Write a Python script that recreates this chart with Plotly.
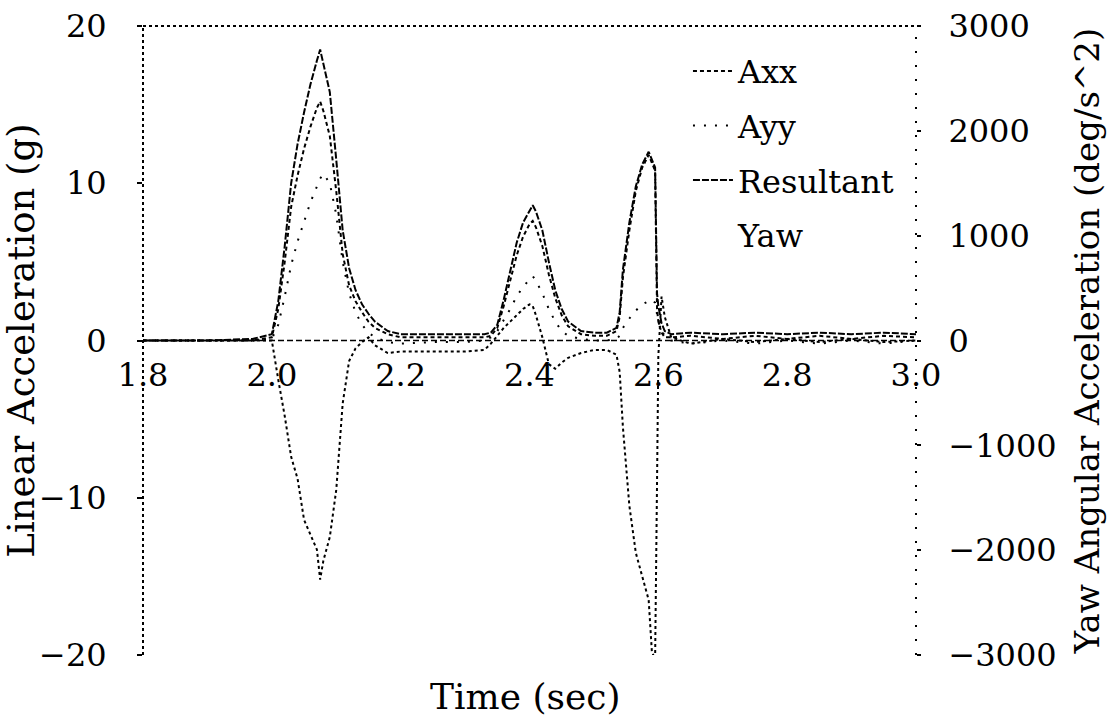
import plotly.graph_objects as go

# ---- data ----
time_s = [1.80, 1.90, 1.97, 2.00, 2.01, 2.02, 2.03, 2.04, 2.05, 2.06,
          2.07, 2.075, 2.08, 2.09, 2.10, 2.11, 2.12, 2.13, 2.14, 2.15,
          2.16, 2.18, 2.20, 2.25, 2.30, 2.33, 2.34, 2.35, 2.36, 2.37,
          2.38, 2.39, 2.40, 2.405, 2.41, 2.42, 2.43, 2.44, 2.45, 2.46,
          2.48, 2.50, 2.52, 2.535, 2.54, 2.545, 2.555, 2.565, 2.575, 2.585,
          2.59, 2.595, 2.598, 2.60, 2.605, 2.61, 2.62, 2.65, 2.70, 2.75,
          2.80, 2.85, 2.90, 2.95, 3.00]

axx = [0.0, 0.0, 0.0, 0.2, 2.0, 5.0, 8.5, 10.5, 12.2, 13.6,
       14.8, 15.2, 14.6, 13.0, 9.5, 5.5, 3.5, 2.5, 1.8, 1.2,
       0.8, 0.4, 0.2, 0.2, 0.2, 0.2, 0.3, 0.8, 2.2, 3.9,
       5.4, 6.6, 7.4, 7.6, 7.2, 6.0, 4.2, 2.7, 1.6, 0.9,
       0.4, 0.3, 0.3, 0.6, 1.5, 4.0, 7.0, 9.5, 11.0, 11.8,
       11.3, 10.8, 2.0, 1.2, 0.5, 0.2, 0.2, 0.3, 0.1, 0.3,
       0.1, 0.3, 0.1, 0.3, 0.2]

ayy = [0.0, 0.0, 0.0, 0.1, 1.0, 2.8, 4.8, 6.3, 7.6, 8.8,
       9.8, 10.3, 10.6, 10.0, 8.0, 5.0, 3.0, 1.8, 1.0, 0.5,
       0.2, -0.1, -0.2, -0.1, -0.1, 0.0, 0.2, 0.6, 1.3, 2.0,
       2.8, 3.4, 3.9, 4.1, 3.8, 3.0, 2.0, 1.2, 0.6, 0.3,
       0.1, 0.0, 0.0, 0.1, 0.3, 0.8, 1.4, 1.9, 2.3, 2.5,
       2.6, 2.4, 1.6, 1.2, 0.6, 0.3, 0.0, -0.2, 0.0, -0.2,
       0.0, -0.2, 0.0, -0.2, 0.0]

resultant = [0.0, 0.0, 0.1, 0.4, 2.5, 6.0, 10.0, 12.5, 14.5, 16.3,
             17.8, 18.5, 17.6, 15.8, 11.5, 7.0, 4.6, 3.2, 2.3, 1.7,
             1.2, 0.6, 0.4, 0.4, 0.4, 0.4, 0.5, 1.0, 2.6, 4.5,
             6.2, 7.5, 8.3, 8.6, 8.2, 7.0, 5.0, 3.2, 2.0, 1.2,
             0.6, 0.5, 0.5, 0.8, 1.8, 4.5, 7.5, 9.8, 11.2, 12.0,
             11.5, 11.0, 3.0, 2.2, 1.1, 0.6, 0.4, 0.5, 0.4, 0.5,
             0.4, 0.5, 0.4, 0.5, 0.4]

yaw = [0, 0, 0, 0, -375, -720, -1110, -1320, -1710, -1845,
       -1995, -2280, -2100, -1875, -1425, -600, -195, -75, -15, 30,
       -45, -120, -105, -105, -105, -90, -30, 45, 120, 180,
       240, 300, 345, 330, 240, 30, -225, -270, -210, -165,
       -120, -90, -90, -135, -300, -825, -1575, -2025, -2250, -2475,
       -2970, -3040, -1350, -150, 420, 225, 30, -30, 15, -15,
       15, -15, 15, -15, 0]

x_ticks = [1.8, 2.0, 2.2, 2.4, 2.6, 2.8, 3.0]
x_tick_text = ["1.8", "2.0", "2.2", "2.4", "2.6", "2.8", "3.0"]
y_ticks = [-20, -10, 0, 10, 20]
y2_ticks = [-3000, -2000, -1000, 0, 1000, 2000, 3000]

FONT = "DejaVu Serif"
BLACK = "#000000"

fig = go.Figure()
fig.add_trace(go.Scatter(x=time_s, y=axx, name="Axx", mode="lines",
                         legendgroup="a", line=dict(color=BLACK, width=2, dash="4px,3px")))
fig.add_trace(go.Scatter(x=time_s, y=ayy, name="Ayy", mode="lines",
                         legendgroup="b", line=dict(color=BLACK, width=2, dash="2px,9px")))
fig.add_trace(go.Scatter(x=time_s, y=resultant, name="Resultant", mode="lines",
                         legendgroup="c", line=dict(color=BLACK, width=2, dash="7px,2px")))
fig.add_trace(go.Scatter(x=time_s, y=yaw, name="Yaw", mode="lines", yaxis="y2",
                         legendgroup="d", showlegend=False,
                         line=dict(color=BLACK, width=2, dash="dot")))
# legend entry for Yaw (no visible sample in the reference)
fig.add_trace(go.Scatter(x=[None], y=[None], name="Yaw", mode="lines", yaxis="y2",
                         legendgroup="d", line=dict(color="rgba(0,0,0,0)", width=2)))

fig.update_layout(
    width=1107, height=720, autosize=False,
    margin=dict(l=143, r=191, t=26, b=65),
    paper_bgcolor="white", plot_bgcolor="white",
    font=dict(family=FONT, color=BLACK, size=32),
    xaxis=dict(range=[1.8, 3.0], tickvals=x_ticks, ticktext=x_tick_text,
               anchor="free", position=0.5, showline=False, showgrid=False,
               zeroline=False, ticks="", ticklabelstandoff=12, automargin=False,
               tickfont=dict(size=32)),
    yaxis=dict(range=[-20, 20], tickvals=y_ticks, showgrid=False, zeroline=False,
               showline=False, ticks="outside", ticklen=5, tickwidth=2, tickcolor=BLACK,
               ticklabelstandoff=24, tickfont=dict(size=32), automargin=False,
               title=dict(text="Linear Acceleration (g)", font=dict(size=37), standoff=1)),
    yaxis2=dict(range=[-3000, 3000], tickvals=y2_ticks, overlaying="y", side="right",
                showgrid=False, zeroline=False, showline=False, ticks="outside",
                ticklen=4, tickwidth=2, tickcolor=BLACK, ticklabelstandoff=21,
                tickfont=dict(size=32), automargin=False,
                title=dict(text="Yaw Angular Acceleration (deg/s^2)", font=dict(size=34),
                           standoff=42)),
    legend=dict(x=0.705, y=0.972, xanchor="left", yanchor="top",
                bgcolor="rgba(255,255,255,0)", font=dict(size=32),
                itemwidth=40, traceorder="grouped", tracegroupgap=10),
    showlegend=True,
    shapes=[
        dict(type="line", xref="paper", yref="paper", x0=0, x1=0, y0=0, y1=1,
             line=dict(color=BLACK, width=2, dash="dot")),
        dict(type="line", xref="paper", yref="paper", x0=0, x1=1, y0=1, y1=1,
             line=dict(color=BLACK, width=2, dash="dot")),
        dict(type="line", xref="paper", yref="paper", x0=1, x1=1, y0=0, y1=1,
             line=dict(color=BLACK, width=2, dash="2px,12px")),
        dict(type="line", xref="paper", yref="y", x0=0, x1=1, y0=0, y1=0,
             line=dict(color=BLACK, width=1.5, dash="6px,3px")),
    ],
    annotations=[
        dict(text="Time (sec)", xref="paper", yref="paper", x=0.494, y=-0.066,
             xanchor="center", yanchor="middle", showarrow=False,
             font=dict(size=36, family=FONT, color=BLACK)),
    ],
)

fig.write_html("out.html", config={"displayModeBar": False},
               post_script="document.body.style.margin='0';document.body.style.overflow='hidden';")
